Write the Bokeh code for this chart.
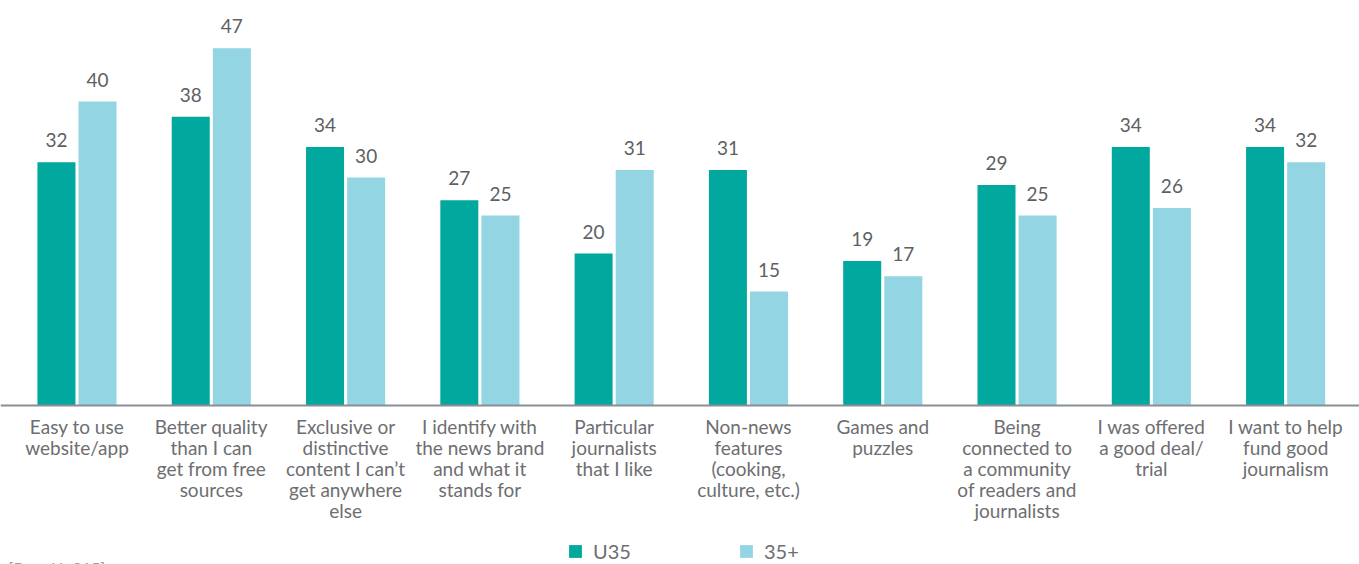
from bokeh.plotting import figure
from bokeh.models import ColumnDataSource, Range1d, Span, Legend, LegendItem
from bokeh.core.properties import value
from bokeh.embed import file_html
from bokeh.resources import INLINE

categories = [
    "Easy to use\nwebsite/app",
    "Better quality\nthan I can\nget from free\nsources",
    "Exclusive or\ndistinctive\ncontent I can\u2019t\nget anywhere\nelse",
    "I identify with\nthe news brand\nand what it\nstands for",
    "Particular\njournalists\nthat I like",
    "Non-news\nfeatures\n(cooking,\nculture, etc.)",
    "Games and\npuzzles",
    "Being\nconnected to\na community\nof readers and\njournalists",
    "I was offered\na good deal/\ntrial",
    "I want to help\nfund good\njournalism",
]
u35 = [32, 38, 34, 27, 20, 31, 19, 29, 34, 34]
over35 = [40, 47, 30, 25, 31, 15, 17, 25, 26, 32]
series_names = ["U35", "35+"]
base_note = "[Base N=315]"

TEAL = "#00a89d"
LIGHT = "#93d5e2"
GREY = "#6d6e71"
FONT = "Lato"

xc = [i + 0.5 for i in range(len(categories))]
off = 0.153
bw = 0.283

src = ColumnDataSource(dict(
    xc=xc,
    x1=[x - off for x in xc],
    x2=[x + off for x in xc],
    u35=u35,
    o35=over35,
    u35_t=[str(v) for v in u35],
    o35_t=[str(v) for v in over35],
    cat=categories,
    zero=[0] * len(categories),
))

p = figure(width=1359, height=564, output_backend="svg", toolbar_location=None,
           x_range=Range1d(-0.0696, 10.05), y_range=Range1d(-20.92, 53.29),
           min_border=0, min_border_left=0, min_border_right=0,
           min_border_top=0, min_border_bottom=0)
p.axis.visible = False
p.grid.visible = False
p.outline_line_color = None
p.background_fill_color = "white"
p.border_fill_color = "white"

r1 = p.vbar(x="x1", top="u35", width=bw, source=src, fill_color=TEAL, line_color=None)
r2 = p.vbar(x="x2", top="o35", width=bw, source=src, fill_color=LIGHT, line_color=None)

p.add_layout(Span(location=0, dimension="width", line_color="#8a8e96", line_width=2))

p.text(x="x1", y="u35", text="u35_t", source=src, text_align="center",
       text_baseline="alphabetic", y_offset=-22, text_font=value(FONT),
       text_font_size="19px", text_color="#5e5f62")
p.text(x="x2", y="o35", text="o35_t", source=src, text_align="center",
       text_baseline="alphabetic", y_offset=-22, text_font=value(FONT),
       text_font_size="19px", text_color="#5e5f62")

p.text(x="xc", y="zero", text="cat", source=src, text_align="center",
       text_baseline="top", y_offset=9, text_font=value(FONT),
       text_font_size="19px", text_color=GREY, text_line_height=0.92)

p.text(x=[-0.01], y=[-20.0], text=[base_note], text_align="left", text_baseline="top",
       text_font=value(FONT), text_font_size="16px", text_color="#9a9b9d")

legend = Legend(items=[LegendItem(label=series_names[0], renderers=[r1]),
                       LegendItem(label=series_names[1], renderers=[r2])],
                orientation="horizontal", location=(567, 1),
                glyph_width=16, glyph_height=16, label_standoff=10,
                label_width=120, label_height=16, spacing=25,
                padding=0, margin=0, border_line_color=None,
                background_fill_alpha=0,
                label_text_font=FONT, label_text_font_size="20px",
                label_text_color=GREY)
p.add_layout(legend)

open("out.html", "w").write(file_html(p, INLINE))
